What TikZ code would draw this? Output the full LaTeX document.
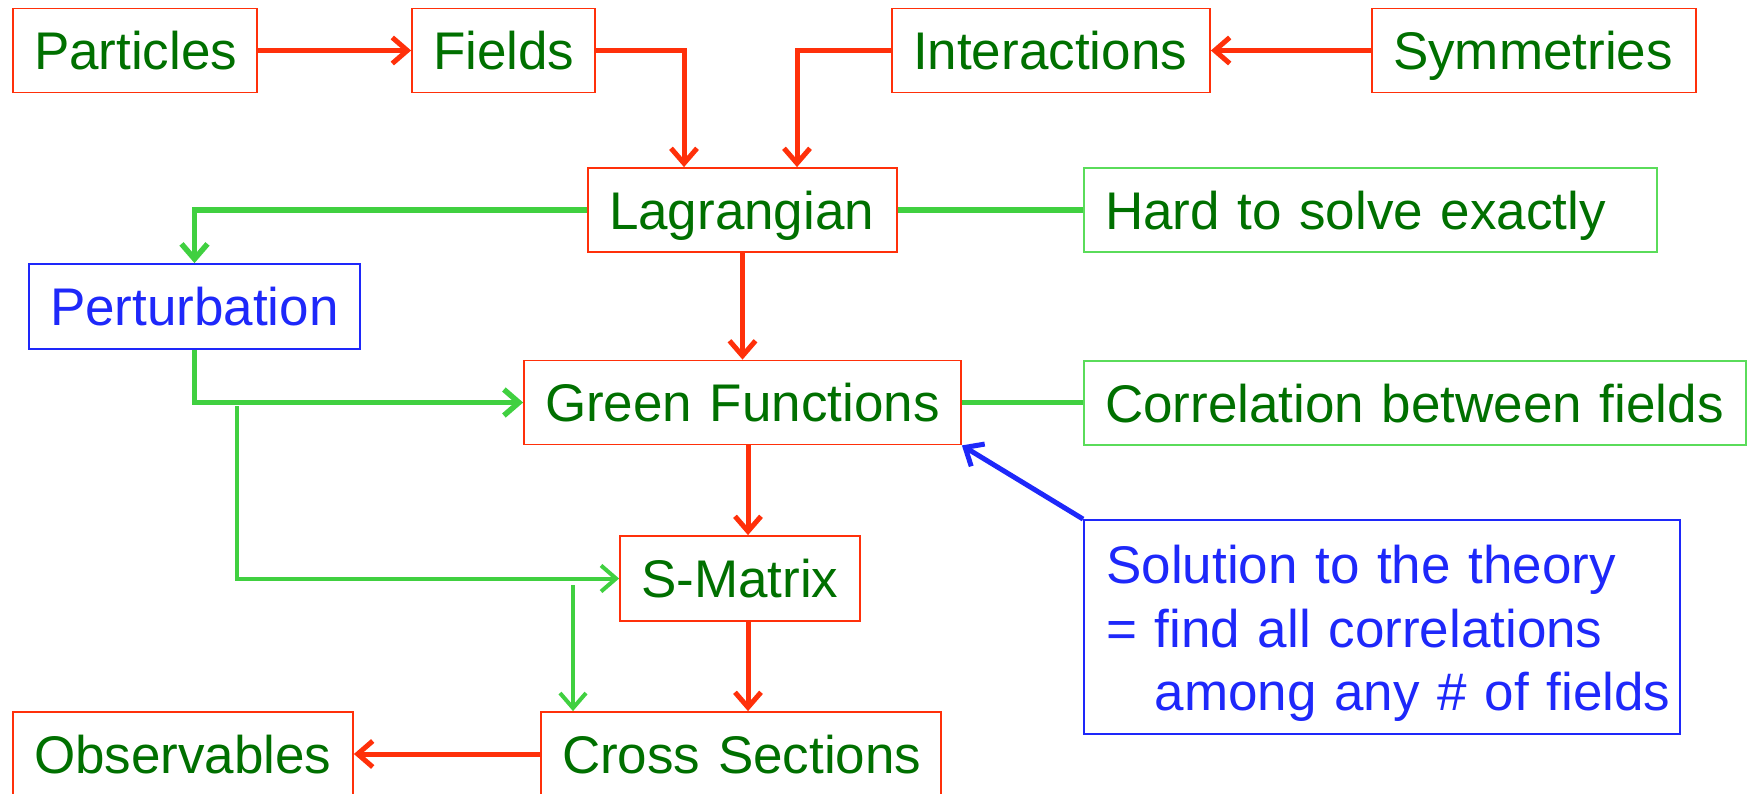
\documentclass[tikz,border=0pt]{standalone}
\usepackage{fontspec}
\setmainfont{Liberation Sans}
\usetikzlibrary{arrows.meta}
\definecolor{cred}{RGB}{255,48,10}
\definecolor{cgreen}{RGB}{64,208,64}
\definecolor{ctext}{RGB}{0,112,0}
\definecolor{cblue}{RGB}{30,40,250}
\definecolor{cgbox}{RGB}{90,220,90}
\begin{document}
\begin{tikzpicture}[x=1pt,y=-1pt,
  basebox/.style={draw=cred, line width=1.8pt, fill=white, inner xsep=21pt, inner ysep=0pt,
    align=left, text=ctext, font=\fontsize{53}{63.5}\selectfont},
  box/.style={basebox, minimum height=84pt, text height=38pt, text depth=0pt},
  gbox/.style={box, draw=cgbox},
  bbox/.style={box, draw=cblue, text=cblue},
  redarr/.style={draw=cred, line width=5pt, -{Straight Barb[length=15pt,width=26pt]}},
  grnarr/.style={draw=cgreen, line width=5.5pt, -{Straight Barb[length=15pt,width=26pt]}},
  grnthin/.style={draw=cgreen, line width=4pt, -{Straight Barb[length=15pt,width=26pt]}},
  grnline/.style={draw=cgreen, line width=5.5pt},
  bluearr/.style={draw=cblue, line width=5pt, -{Straight Barb[length=15pt,width=26pt]}}
]
\useasboundingbox (0,0) rectangle (1750,793);
\node[box, text width=202pt] (part) at (135,50.5) {\mbox{Particles}};
\node[box, text width=141pt] (fields) at (503.5,50.5) {\mbox{Fields}};
\node[box, text width=276pt] (inter) at (1051,50.5) {\mbox{Interactions}};
\node[box, text width=282pt] (sym) at (1534,50.5) {\mbox{Symmetries}};
\node[box, text width=267pt] (lag) at (742.5,210) {\mbox{Lagrangian}};
\node[gbox, text width=531pt] (hard) at (1370.5,210) {\mbox{Hard to solve exactly}};
\node[bbox, text width=289pt, minimum height=85pt] (pert) at (194.5,306.5) {\mbox{Perturbation}};
\node[box, text width=395pt] (green) at (742.5,402.5) {\mbox{Green Functions}};
\node[gbox, text width=620pt] (corr) at (1415,403) {\mbox{Correlation between fields}};
\node[box, text width=198pt, minimum height=85pt] (smat) at (740,578.5) {\mbox{S-Matrix}};
\node[basebox, draw=cblue, text=cblue, text width=554pt, minimum height=214pt] (sol) at (1382,627) {};
\node[anchor=north west, inner sep=0pt, align=left, text=cblue, font=\fontsize{53}{63.5}\selectfont,
  text width=560pt] (soltext) at (1106,545)
  {\mbox{Solution to the theory}\\\mbox{= find all correlations}\\\mbox{\phantom{= }among any \# of fields}};
\node[box, text width=298pt] (obs) at (183,754) {\mbox{Observables}};
\node[box, text width=358pt] (cross) at (741,754) {\mbox{Cross Sections}};

\coordinate (fx) at (684,0);
\coordinate (ix) at (797,0);
\coordinate (vx) at (748,0);
\coordinate (br) at (237,406);
\coordinate (b2) at (573,585);

\draw[redarr] (part) -- (fields);
\draw[redarr] (fields.east) -| (fx |- lag.north);
\draw[redarr] (inter.west) -| (ix |- lag.north);
\draw[redarr] (sym) -- (inter);
\draw[grnarr] (lag.west) -| (pert.north);
\draw[grnline] (lag.east) -- (hard.west |- lag.east);
\draw[redarr] (lag.south) -- (green.north);
\draw[grnarr] (pert.south) |- (green.west);
\draw[grnthin] (br) |- (smat.west);
\draw[grnline] (green.east) -- (corr.west |- green.east);
\draw[redarr] (vx |- green.south) -- (vx |- smat.north);
\draw[redarr] (vx |- smat.south) -- (vx |- cross.north);
\draw[grnthin] (b2) -- (b2 |- cross.north);
\draw[redarr] (cross.west) -- (obs.east);
\draw[bluearr] (sol.north west) -- (green.south east);
\end{tikzpicture}
\end{document}
